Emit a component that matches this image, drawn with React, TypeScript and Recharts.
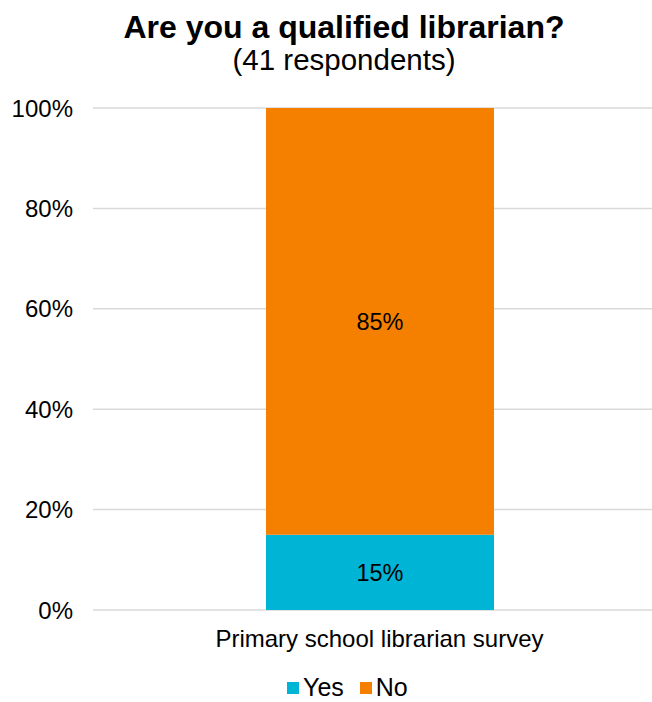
import { BarChart, Bar, XAxis, YAxis, CartesianGrid, LabelList } from "recharts";

const categories = ["Primary school librarian survey"];
const yesValues = [15];
const noValues = [85];
const yTicks = [0, 20, 40, 60, 80, 100];

const data = categories.map((name, i) => ({ name, Yes: yesValues[i], No: noValues[i] }));

const YES_COLOR = "#00B4D6";
const NO_COLOR = "#F58000";
const FONT = "'Liberation Sans', Arial, sans-serif";

const pct = (v: number) => `${v}%`;

export default function App() {
  return (
    <div
      style={{
        position: "fixed",
        left: 0,
        top: 0,
        width: 652,
        height: 702,
        overflow: "hidden",
        background: "#fff",
        fontFamily: FONT,
        lineHeight: 1,
      }}
    >
      <div style={{ position: "absolute", top: 11, left: 0, width: 688, textAlign: "center", fontSize: 32, fontWeight: "bold", color: "#000" }}>
        Are you a qualified librarian?
      </div>
      <div style={{ position: "absolute", top: 45, left: 0, width: 688, textAlign: "center", fontSize: 29.5, color: "#000" }}>
        (41 respondents)
      </div>
      <div style={{ position: "absolute", left: 0, top: 0, width: 720 }}>
        <BarChart width={720} height={702} data={data} margin={{ top: 108, right: 54, bottom: 52, left: 0 }}>
          <CartesianGrid vertical={false} stroke="#D9D9D9" strokeWidth={1.5} />
          <XAxis
            dataKey="name"
            height={40}
            axisLine={false}
            tickLine={false}
            tickMargin={14}
            tick={{ fontSize: 24, fill: "#000", fontFamily: FONT }}
          />
          <YAxis
            width={93}
            domain={[0, 100]}
            ticks={yTicks}
            tickFormatter={pct}
            axisLine={false}
            tickLine={false}
            tickMargin={14}
            tick={{ fontSize: 24, fill: "#000", fontFamily: FONT }}
          />
          <Bar dataKey="Yes" stackId="a" fill={YES_COLOR} barSize={228} isAnimationActive={false}>
            <LabelList dataKey="Yes" position="center" formatter={pct} fill="#000" fontSize={23.5} fontFamily={FONT} />
          </Bar>
          <Bar dataKey="No" stackId="a" fill={NO_COLOR} barSize={228} isAnimationActive={false}>
            <LabelList dataKey="No" position="center" formatter={pct} fill="#000" fontSize={23.5} fontFamily={FONT} />
          </Bar>
        </BarChart>
      </div>
      <div style={{ position: "absolute", top: 675, left: 287, display: "flex", alignItems: "center", fontSize: 25, color: "#000" }}>
        <span style={{ display: "inline-block", width: 12, height: 12, background: YES_COLOR, marginRight: 4 }} />
        <span style={{ marginRight: 16 }}>Yes</span>
        <span style={{ display: "inline-block", width: 12, height: 12, background: NO_COLOR, marginRight: 4 }} />
        <span>No</span>
      </div>
    </div>
  );
}
